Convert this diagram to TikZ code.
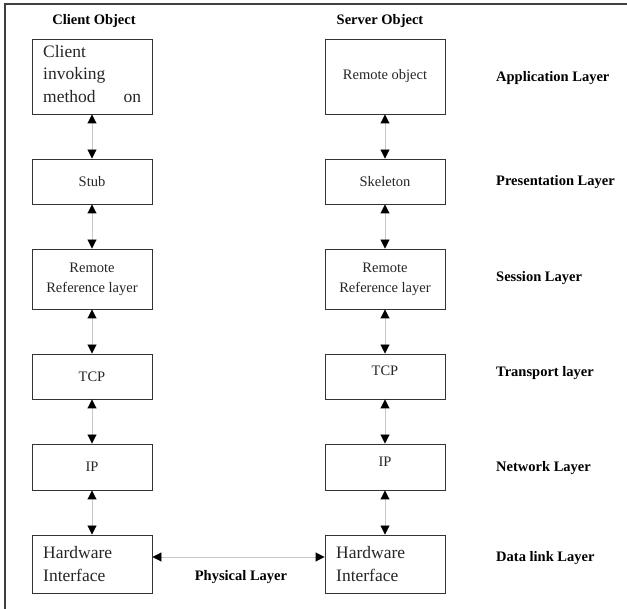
\documentclass[tikz,border=0pt]{standalone}
\usepackage{fontspec}
\setmainfont{Liberation Serif}
\usetikzlibrary{arrows.meta}
\begin{document}
\begin{tikzpicture}[x=1pt,y=-1pt,
  box/.style={draw=black!80,line width=0.9pt,minimum width=120pt,inner sep=0pt,
    font=\fontsize{14.5}{20}\selectfont,align=center,text=black!85},
  bigtxt/.style={inner sep=0pt,font=\fontsize{17.5}{22.5}\selectfont,align=left,text=black!85},
  lbl/.style={font=\fontsize{14.5}{16}\selectfont\bfseries,inner sep=0pt},
  link/.style={draw=black!22,line width=0.9pt,
    {Triangle[length=9pt,width=9pt,color=black]}-{Triangle[length=9pt,width=9pt,color=black]}}]
\useasboundingbox (0,0) rectangle (627,609);
\draw[black!75,line width=1.3pt] (627,4) -- (5,4) -- (5,609);

% headings
\node[lbl] (ch) at (94,21) {Client Object};
\node[lbl] (sh) at (380,21) {Server Object};

% client column
\node[box,minimum height=75pt] (c1) at (92,76.5) {};
\node[bigtxt,anchor=north west] (c1t) at (43,45) {\parbox{98pt}{Client\\invoking\\method\hfill on}};
\node[box,minimum height=45pt] (c2) at (92,181.5) {Stub};
\node[box,minimum height=60pt] (c3) at (92,279) {Remote\\Reference layer};
\node[box,minimum height=45pt] (c4) at (92,376.5) {TCP};
\node[box,minimum height=46pt] (c5) at (92,467) {IP};
\node[box,minimum height=58pt] (c6) at (92,564) {};
\node[bigtxt,anchor=west] (c6t) at (43,564) {Hardware\\Interface};

% server column
\node[box,minimum height=75pt] (s1) at (385,76.5) {Remote object};
\node[box,minimum height=45pt] (s2) at (385,181.5) {Skeleton};
\node[box,minimum height=60pt] (s3) at (385,279) {Remote\\Reference layer};
\node[box,minimum height=45pt,text depth=12pt] (s4) at (385,376.5) {TCP};
\node[box,minimum height=46pt,text depth=10pt] (s5) at (385,467) {IP};
\node[box,minimum height=58pt] (s6) at (385,564) {};
\node[bigtxt,anchor=west] (s6t) at (336,564) {Hardware\\Interface};

% layer labels
\node[lbl,anchor=west] (l1) at (496,78) {Application Layer};
\node[lbl,anchor=west] (l2) at (496,182) {Presentation Layer};
\node[lbl,anchor=west] (l3) at (496,278) {Session Layer};
\node[lbl,anchor=west] (l4) at (496,373) {Transport layer};
\node[lbl,anchor=west] (l5) at (496,468) {Network Layer};
\node[lbl,anchor=west] (l6) at (496,558) {Data link Layer};
\node[lbl] (l7) at (241,577) {Physical Layer};

% connectors
\draw[link] (c1.south) -- (c2.north);
\draw[link] (c2.south) -- (c3.north);
\draw[link] (c3.south) -- (c4.north);
\draw[link] (c4.south) -- (c5.north);
\draw[link] (c5.south) -- (c6.north);
\draw[link] (s1.south) -- (s2.north);
\draw[link] (s2.south) -- (s3.north);
\draw[link] (s3.south) -- (s4.north);
\draw[link] (s4.south) -- (s5.north);
\draw[link] (s5.south) -- (s6.north);
\draw[link] ([yshift=7pt]c6.east) -- ([yshift=7pt]s6.west);
\end{tikzpicture}
\end{document}
